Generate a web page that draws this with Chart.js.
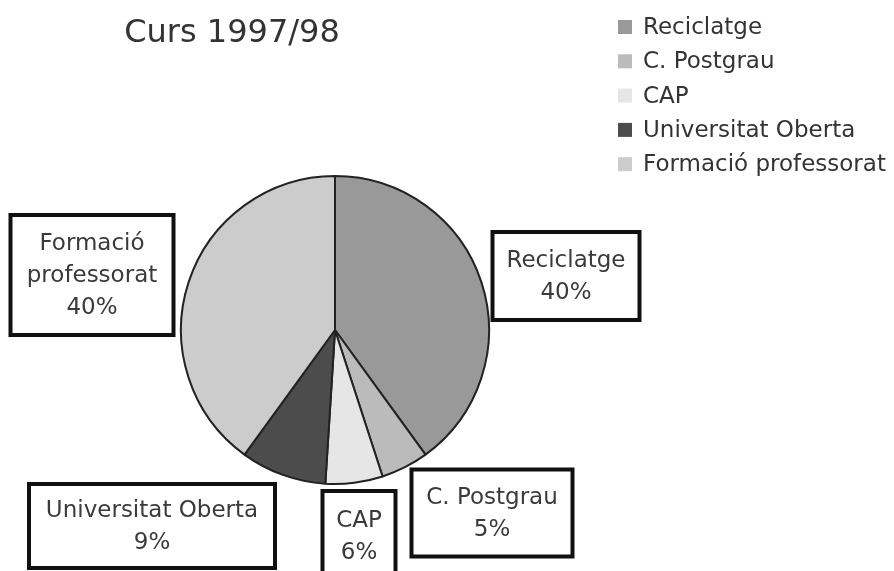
<!DOCTYPE html>
<html>
<head>
<meta charset="utf-8">
<script src="https://cdn.jsdelivr.net/npm/chart.js@4/dist/chart.umd.min.js"></script>
<style>
  html, body { margin: 0; padding: 0; background: #fff; }
  #wrap { width: 894px; height: 571px; }
</style>
</head>
<body>
<div id="wrap"><canvas id="myPieChart" width="894" height="571"></canvas></div>
<script>
const categories = ["Reciclatge", "C. Postgrau", "CAP", "Universitat Oberta", "Formació professorat"];
const percents = [40, 5, 6, 9, 40];
const boxLines = [["Reciclatge"], ["C. Postgrau"], ["CAP"], ["Universitat Oberta"], ["Formació", "professorat"]];
const sliceColors = ["#999999", "#bbbbbb", "#e6e6e6", "#4c4c4c", "#cccccc"];
const titleText = "Curs 1997/98";

const FONT = "DejaVu Sans";

// callout boxes: centre offset from pie centre, width, height
const boxLayout = [
  { dx: 231, dy: -54, w: 147, h: 88 },
  { dx: 157, dy: 183, w: 161, h: 87 },
  { dx: 24, dy: 206, w: 73, h: 90 },
  { dx: -183, dy: 196, w: 246, h: 84 },
  { dx: -243, dy: -55, w: 163, h: 120 },
];

const titleAndLegend = {
  id: "titleAndLegend",
  afterDraw(chart) {
    const ctx = chart.ctx;
    ctx.save();
    ctx.fillStyle = "#333";
    ctx.font = `32px "${FONT}"`;
    ctx.textAlign = "center";
    ctx.textBaseline = "alphabetic";
    ctx.fillText(titleText, 232, 42);

    ctx.font = `23px "${FONT}"`;
    ctx.textAlign = "left";
    ctx.textBaseline = "middle";
    chart.data.labels.forEach((lab, i) => {
      const y = 27 + i * 34.3;
      ctx.fillStyle = chart.data.datasets[0].backgroundColor[i];
      ctx.fillRect(618, y - 7, 14, 14);
      ctx.fillStyle = "#333";
      ctx.fillText(lab, 643, y + 1);
    });
    ctx.restore();
  }
};

const calloutBoxes = {
  id: "calloutBoxes",
  afterDraw(chart) {
    const ctx = chart.ctx;
    const arcs = chart.getDatasetMeta(0).data;
    const vals = chart.data.datasets[0].data;
    ctx.save();
    ctx.font = `23px "${FONT}"`;
    ctx.textAlign = "center";
    ctx.textBaseline = "middle";
    arcs.forEach((arc, i) => {
      const b = boxLayout[i];
      const cx = arc.x + b.dx, cy = arc.y + b.dy;
      ctx.fillStyle = "#fff";
      ctx.fillRect(cx - b.w / 2, cy - b.h / 2, b.w, b.h);
      ctx.lineWidth = 4;
      ctx.strokeStyle = "#111";
      ctx.strokeRect(cx - b.w / 2, cy - b.h / 2, b.w, b.h);
      const lines = boxLines[i].concat([vals[i] + "%"]);
      const lh = 32;
      const top = cy - (lines.length - 1) * lh / 2;
      ctx.fillStyle = "#3a3a3a";
      lines.forEach((t, k) => ctx.fillText(t, cx, top + k * lh + 1));
    });
    ctx.restore();
  }
};

const ctx1 = document.getElementById("myPieChart");

new Chart(ctx1, {
  type: "pie",
  data: {
    labels: categories,
    datasets: [
      {
        data: percents,
        backgroundColor: sliceColors,
        borderColor: "#222",
        borderWidth: 2,
        hoverOffset: 0,
      },
    ],
  },
  plugins: [titleAndLegend, calloutBoxes],
  options: {
    responsive: false,
    devicePixelRatio: 1,
    animation: false,
    layout: {
      padding: { left: 180, right: 404, top: 175, bottom: 86 }
    },
    plugins: {
      legend: { display: false },
      title: { display: false },
      tooltip: { enabled: false }
    },
  },
});
</script>
</body>
</html>
